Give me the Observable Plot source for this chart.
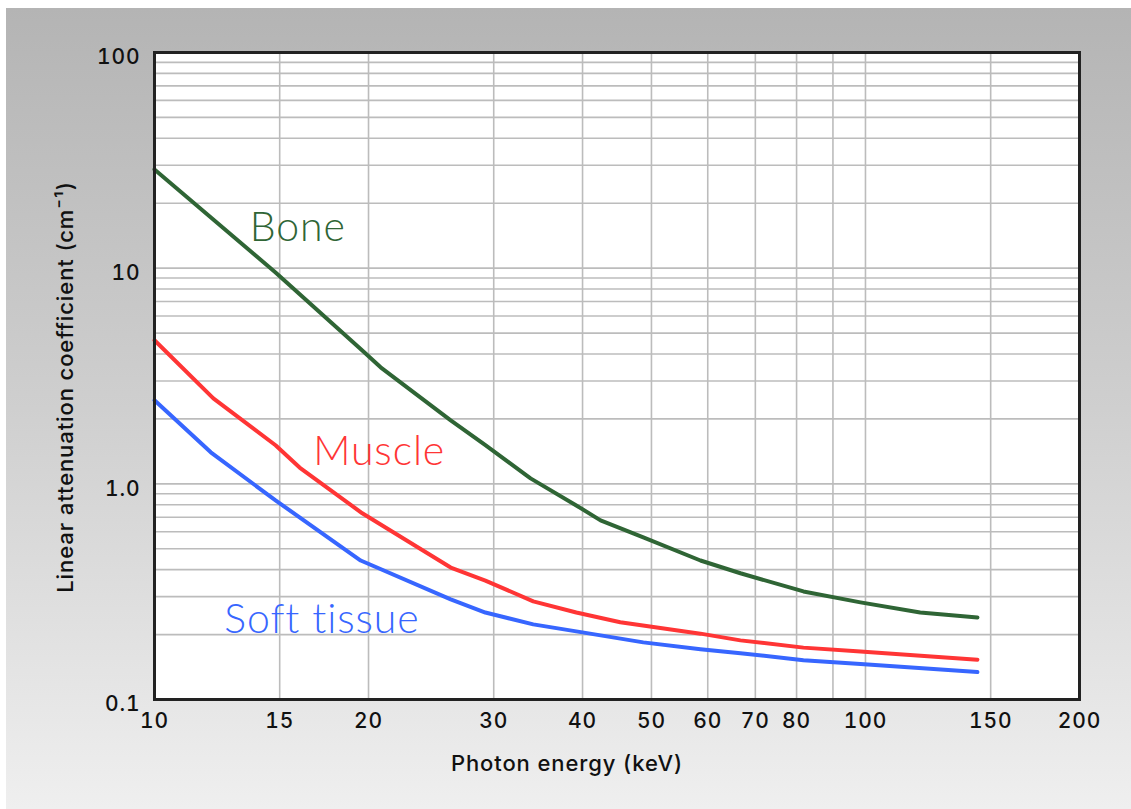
<!DOCTYPE html>
<html>
<head>
<meta charset="utf-8">
<script src="https://cdn.jsdelivr.net/npm/d3@7"></script>
<script src="https://cdn.jsdelivr.net/npm/@observablehq/plot@0.6"></script>
<style>
  html, body { margin: 0; padding: 0; background: #ffffff; }
  #wrap {
    position: absolute; left: 6px; top: 8px; width: 1125px; height: 801px;
    background: linear-gradient(to bottom, #b4b4b4 0%, #cfcfcf 50%, #efefef 100%);
  }
  #wrap svg { display: block; }
  #wrap svg text { letter-spacing: 0.9px; }
  #wrap svg text.series-label { letter-spacing: 0; }
</style>
</head>
<body>
<div id="wrap"></div>
<script>
// Photon energy (keV) and linear attenuation coefficient (cm^-1)
const boneEnergy = [10, 14.8, 19.6, 20.8, 26.1, 29.2, 33.8, 39.2, 42.4, 48.7, 58.6, 66.7, 81.8, 98.4, 119.4, 143.7];
const boneMu     = [28.7, 9.55, 4.15, 3.47, 1.97, 1.51, 1.06, 0.794, 0.677, 0.564, 0.441, 0.385, 0.317, 0.282, 0.253, 0.240];

const muscleEnergy = [10, 12.1, 14.8, 16.0, 19.6, 26.1, 29.2, 34.1, 39.2, 45.2, 58.6, 66.7, 81.8, 98.4, 143.7];
const muscleMu     = [4.63, 2.49, 1.51, 1.19, 0.73, 0.409, 0.356, 0.285, 0.253, 0.228, 0.202, 0.188, 0.174, 0.167, 0.153];

const softEnergy = [10, 12.0, 14.8, 19.5, 26.1, 29.2, 34.1, 39.2, 48.7, 58.6, 66.7, 81.8, 98.4, 143.7];
const softMu     = [2.44, 1.40, 0.838, 0.441, 0.291, 0.253, 0.223, 0.207, 0.184, 0.171, 0.164, 0.152, 0.146, 0.134];

const seriesNames  = ["Bone", "Muscle", "Soft tissue"];
const seriesColors = ["#2f6535", "#ff3535", "#3766ff"];

// label anchors in data units (energy, coefficient)
const labelEnergy = [15.9, 20.7, 17.2];
const labelMu     = [15.3, 1.40, 0.233];

const xTicks = [10, 15, 20, 30, 40, 50, 60, 70, 80, 100, 150, 200];
const xGrid  = [10, 15, 20, 30, 40, 50, 60, 70, 80, 90, 100, 150, 200];
const yTicks = [0.1, 1, 10, 100];
const yTickLabels = ["0.1", "1.0", "10", "100"];
const yGrid = [0.2,0.3,0.4,0.5,0.6,0.7,0.8,0.9,1,2,3,4,5,6,7,8,9,10,20,30,40,50,60,70,80,90];

const toRows = (name, es, ms) => es.map((e, i) => ({series: name, energy: e, mu: ms[i]}));
const rows = [
  ...toRows("Bone", boneEnergy, boneMu),
  ...toRows("Muscle", muscleEnergy, muscleMu),
  ...toRows("Soft tissue", softEnergy, softMu)
];
const labels = seriesNames.map((n, i) => ({series: n, energy: labelEnergy[i], mu: labelMu[i]}));

const chart = Plot.plot({
  width: 1125,
  height: 801,
  marginLeft: 148,
  marginTop: 44,
  marginRight: 52,
  marginBottom: 110,
  style: {background: "transparent", fontFamily: "Inter, 'DejaVu Sans', sans-serif", fontSize: "21px", color: "#111"},
  x: {type: "log", domain: [10, 200]},
  y: {type: "log", domain: [0.1, 100]},
  color: {domain: seriesNames, range: seriesColors},
  marks: [
    Plot.frame({fill: "white", stroke: null}),
    Plot.ruleY(yGrid, {stroke: "#bcbcbc", strokeWidth: 1.6}),
    Plot.ruleX(xGrid, {stroke: "#bcbcbc", strokeWidth: 1.6}),
    Plot.line(rows, {x: "energy", y: "mu", z: "series", stroke: "series", strokeWidth: 4, strokeLinejoin: "round"}),
    Plot.text(labels, {x: "energy", y: "mu", text: "series", fill: "series", className: "series-label",
      fontSize: 41, fontWeight: 300, fontFamily: "Lato, sans-serif", textAnchor: "middle", lineAnchor: "middle"}),
    Plot.frame({stroke: "#222", strokeWidth: 3}),
    Plot.axisX({ticks: xTicks, tickFormat: d => String(d), tickSize: 0, tickPadding: 14, label: null, fontWeight: 500, fill: "#111"}),
    Plot.axisY({ticks: yTicks, tickFormat: d => yTickLabels[yTicks.indexOf(d)], tickSize: 0, tickPadding: 14, dy: 5, label: null, fontWeight: 500, fill: "#111"}),
    Plot.text(["Photon energy (keV)"], {frameAnchor: "bottom", textAnchor: "middle", lineAnchor: "middle", dx: -50, dy: 64, fontSize: 22, fontWeight: 500, fill: "#111"}),
    Plot.text(["Linear attenuation coefficient (cm⁻¹)"], {frameAnchor: "left", textAnchor: "middle", lineAnchor: "middle", rotate: -90, dx: -89, dy: 11, fontSize: 22, fontWeight: 500, fill: "#111"})
  ]
});
document.getElementById("wrap").appendChild(chart);
</script>
</body>
</html>
